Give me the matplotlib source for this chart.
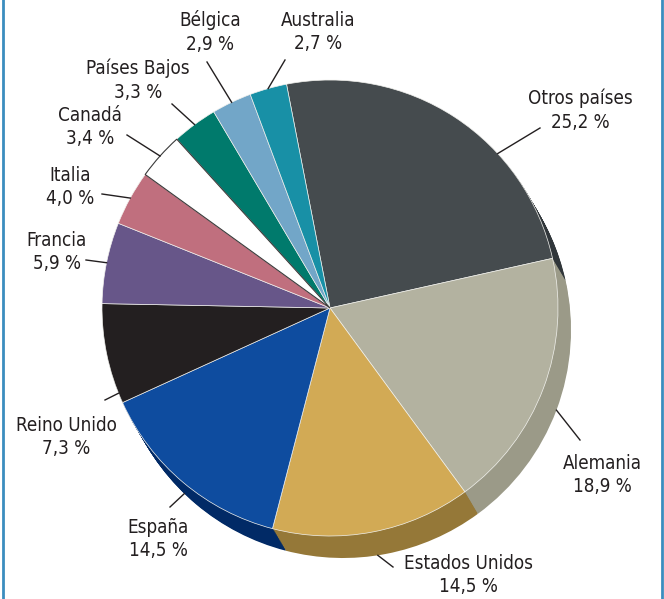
import numpy as np
import matplotlib
matplotlib.use('Agg')
import matplotlib.pyplot as plt

plt.rcParams['font.family'] = ['DejaVu Sans']
plt.rcParams['font.stretch'] = 'condensed'

# Datos: reparto por país (porcentajes tal como se publican)
paises = ['Otros países', 'Alemania', 'Estados Unidos', 'España', 'Reino Unido',
          'Francia', 'Italia', 'Canadá', 'Países Bajos', 'Bélgica', 'Australia']
porcentajes = [25.2, 18.9, 14.5, 14.5, 7.3, 5.9, 4.0, 3.4, 3.3, 2.9, 2.7]
etiquetas = [f'{p:.1f}'.replace('.', ',') + ' %' for p in porcentajes]

colores = ['#454b4e', '#b3b2a0', '#d2aa55', '#0e4c9f', '#231f20',
           '#675689', '#c06f7e', '#ffffff', '#007a6c', '#72a6c8', '#1890a6']
colores_lado = ['#30363a', '#9b9a88', '#957838', '#012a66', '#151213',
                '#4a3d66', '#8f4f5b', '#cccccc', '#005148', '#527c98', '#0f6a7b']

# geometría en píxeles (y hacia arriba)
W, H = 664, 599
cx, cy, R = 330, H - 308, 228
dx, dy = 13, -22          # profundidad del efecto 3D
inicio = 101

# posición de los textos (centro, en coordenadas de imagen)
pos_texto = [(580, 110), (602, 475), (468, 575), (158, 539), (66, 437),
             (57, 252), (70, 187), (90, 127), (138, 80), (210, 32), (318, 32)]
# extremo exterior de cada línea guía (coordenadas de imagen)
fin_guia = [(540, 128), (580, 440), (393, 567), (170, 507), (105, 400),
            (86, 260), (102, 194), (127, 135), (172, 104), (207, 62), (285, 60)]
# posición de la guía dentro de cada porción (0..1)
frac_guia = [0.34, 0.5, 0.46, 0.42, 0.9, 0.5, 0.5, 0.5, 0.5, 0.5, 0.5]
# porciones cuyo lateral queda a la vista
con_lado = [False, True, True, True, False, False, False, False, False, False, False]

fig = plt.figure(figsize=(W / 100, H / 100), dpi=100)
ax = fig.add_axes([0, 0, 1, 1])

# lateral: se apilan copias desplazadas y oscurecidas
n = 24
for k in range(n, 0, -1):
    ax.pie(porcentajes, colors=colores_lado, startangle=inicio, counterclock=False,
           radius=R, center=(cx + dx * k / n, cy + dy * k / n), frame=True,
           wedgeprops=dict(linewidth=0))

# cara superior
cuñas, _ = ax.pie(porcentajes, colors=colores, startangle=inicio, counterclock=False,
                  radius=R, center=(cx, cy), frame=True,
                  wedgeprops=dict(edgecolor='#f2f2ee', linewidth=0.5))
cuñas[7].set_edgecolor('#3a3a3a')
cuñas[7].set_linewidth(0.8)
cuñas[7].set_zorder(cuñas[7].get_zorder() + 0.1)

for i, w in enumerate(cuñas):
    ang = np.deg2rad(w.theta1 + frac_guia[i] * (w.theta2 - w.theta1))
    ox, oy = (cx + dx, cy + dy) if con_lado[i] else (cx, cy)
    x0, y0 = ox + R * np.cos(ang), oy + R * np.sin(ang)
    x1, y1 = fin_guia[i][0], H - fin_guia[i][1]
    ax.plot([x0, x1], [y0, y1], color='#231f20', lw=1.0, zorder=5)
    tx, ty = pos_texto[i]
    ax.text(tx, H - ty, paises[i] + '\n' + etiquetas[i], ha='center', va='center',
            fontsize=13.5, color='#231f20', linespacing=1.3, zorder=6)

# filetes laterales del recuadro
ax.plot([2.5, 2.5], [0, H], color='#3b8dbf', lw=2, zorder=7)
ax.plot([W - 2.5, W - 2.5], [0, H], color='#3b8dbf', lw=2, zorder=7)

ax.set_xlim(0, W)
ax.set_ylim(0, H)
ax.set_aspect('equal')
ax.axis('off')

fig.savefig('out.png', dpi=100, facecolor='white')
